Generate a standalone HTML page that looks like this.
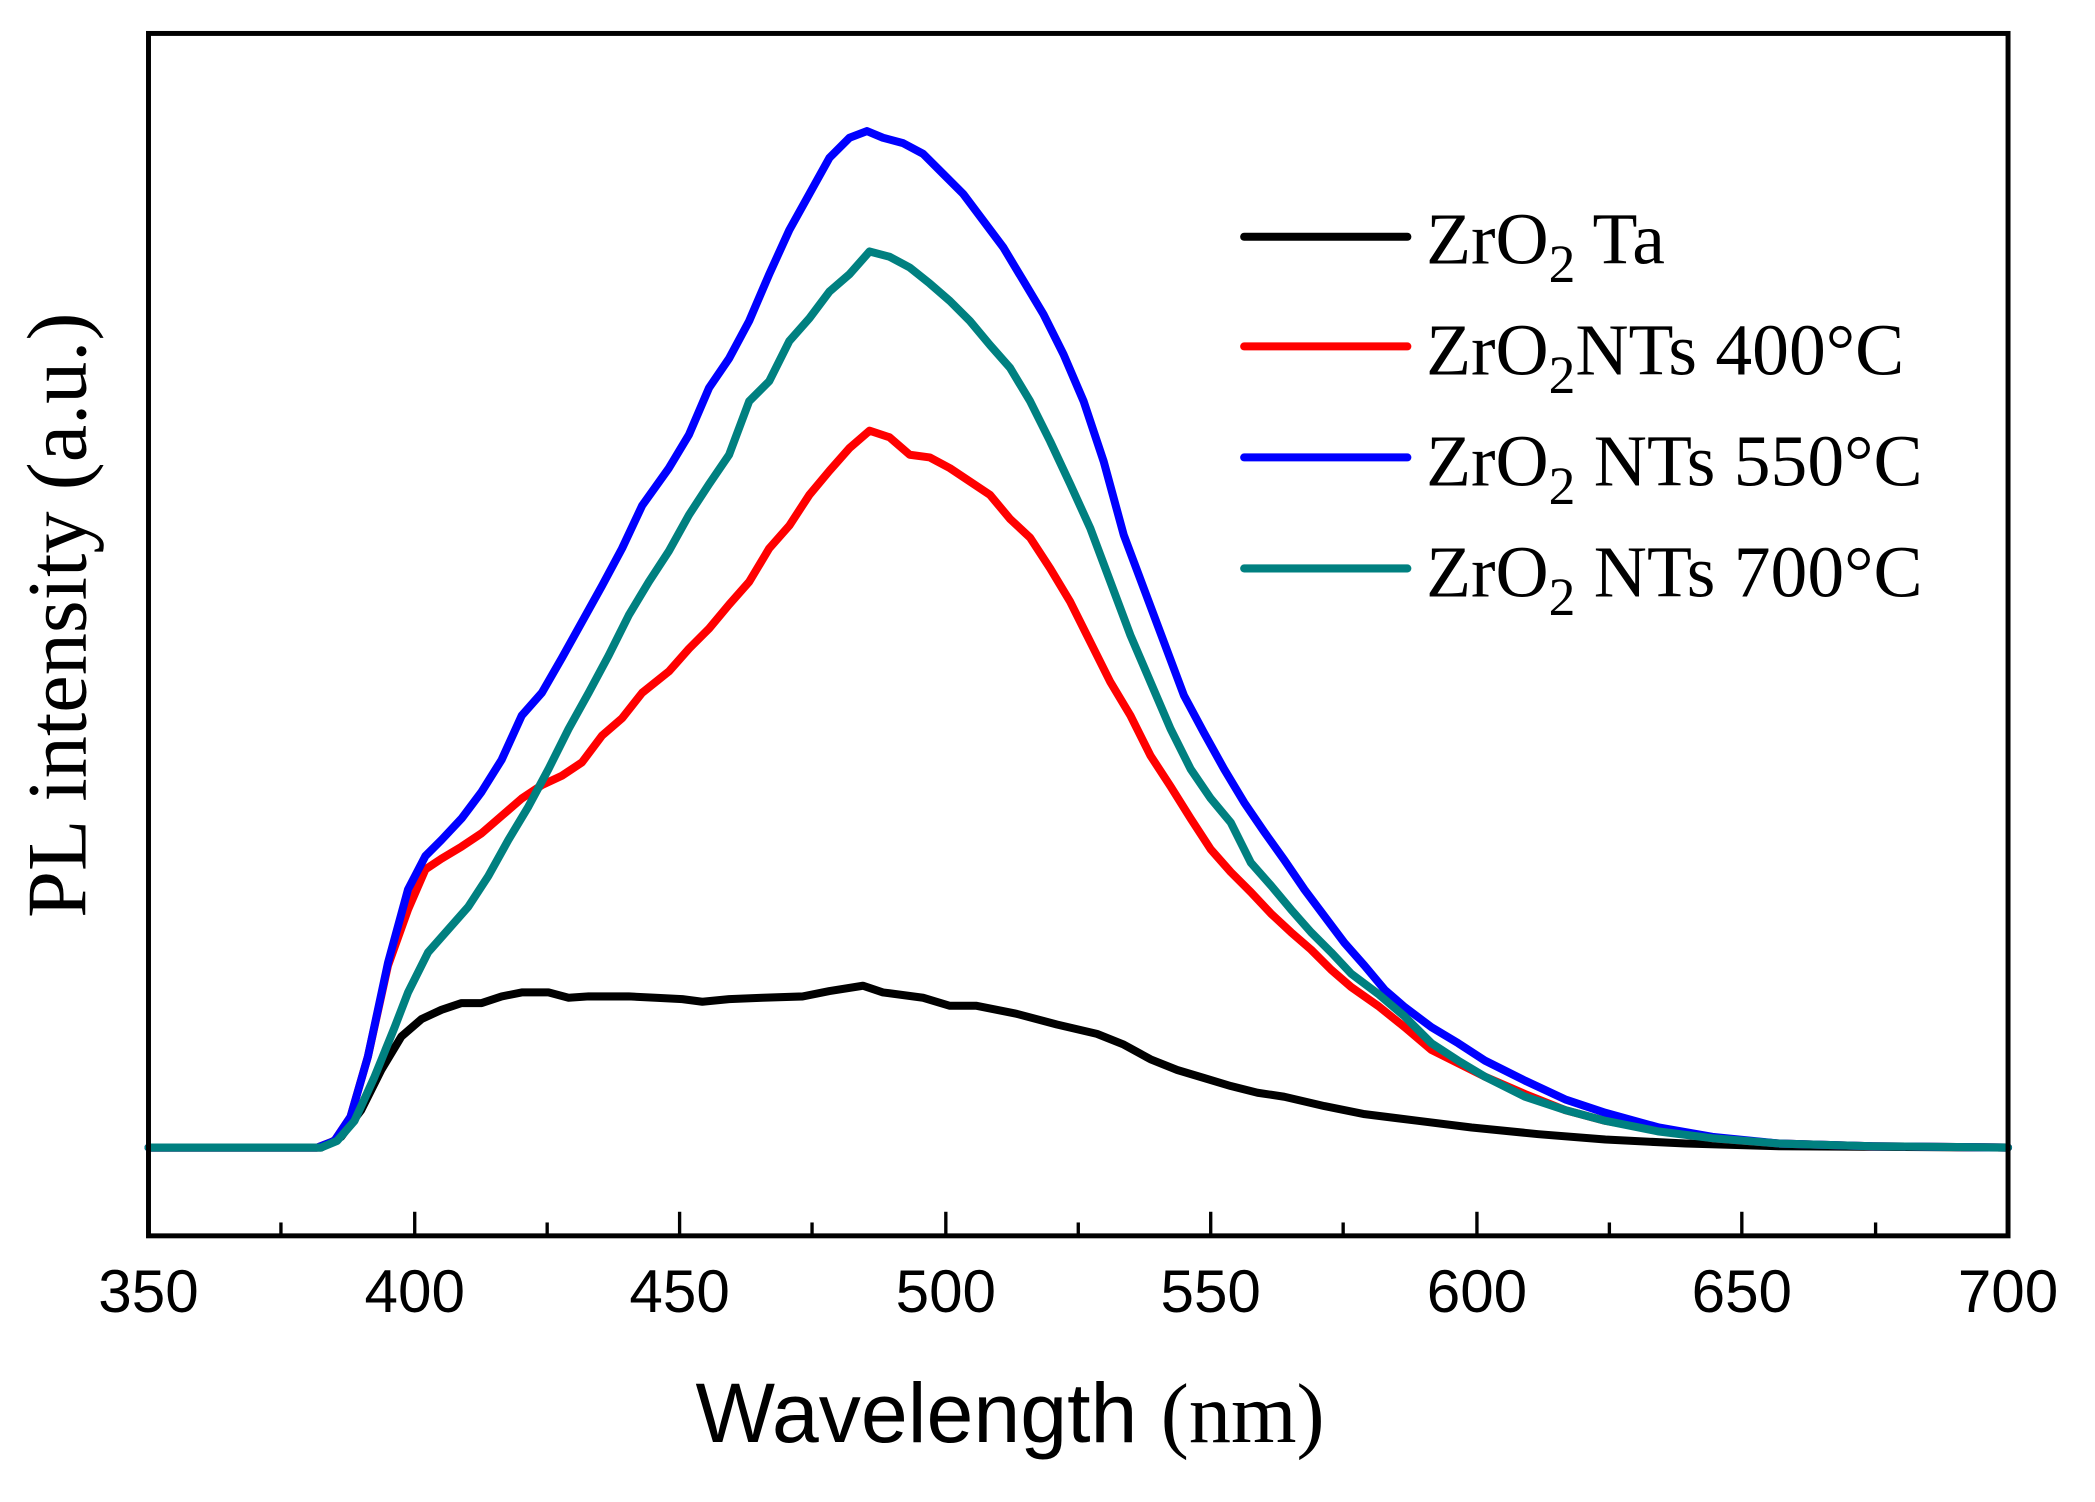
<!DOCTYPE html>
<html><head><meta charset="utf-8"><style>html,body{margin:0;padding:0;background:#fff;}svg{display:block;}</style></head>
<body>
<svg width="2095" height="1502" viewBox="0 0 1566 1123" preserveAspectRatio="none" xmlns="http://www.w3.org/2000/svg">
<rect width="1566" height="1123" fill="#fff"/>
<g fill="none" stroke-width="6" stroke-linejoin="round" stroke-linecap="round">
<polyline stroke="#000" points="111,858 240,858 255,850 270,830 285,800 300,775 315,762 330,755 345,750 360,750 375,745 390,742 410,742 425,746 440,745 470,745 490,746 510,747 525,749 545,747 570,746 600,745 620,741 645,737 660,742 690,746 710,752 730,752 760,758 790,766 820,773 840,781 860,792 880,800 900,806 920,812 940,817 960,820 990,827 1020,833 1060,838 1100,843 1150,848 1200,852 1260,855 1330,857 1501,858"/>
<polyline stroke="#ff0000" points="111,858 237,858 250,853 262,835 275,790 290,722 305,680 318,650 330,642 345,633 360,623 375,610 390,597 405,587 420,580 435,570 450,550 465,537 480,518 500,502 515,485 530,470 545,452 560,435 575,410 590,393 605,370 620,352 635,335 650,322 665,327 680,340 695,342 710,350 725,360 740,370 755,388 770,402 785,425 800,450 815,480 830,510 845,535 860,565 875,588 890,612 905,635 920,652 935,667 950,683 965,697 980,710 995,725 1010,738 1030,752 1050,768 1070,785 1090,795 1110,805 1140,818 1170,830 1200,838 1240,845 1280,851 1330,855 1400,857 1501,858"/>
<polyline stroke="#0000ff" points="111,858 237,858 250,853 262,835 275,790 290,720 305,665 318,640 330,628 345,612 360,592 375,568 390,535 405,518 420,492 435,465 450,438 465,410 480,378 500,350 515,325 530,290 545,268 560,240 575,205 590,172 605,145 620,118 635,103 648,98 660,103 675,107 690,115 705,130 720,145 735,165 750,185 765,210 780,235 795,265 810,300 825,345 840,400 855,440 870,480 885,520 900,548 915,575 930,600 945,622 960,643 975,665 990,685 1005,705 1020,722 1035,740 1050,753 1070,768 1090,780 1110,793 1140,808 1170,822 1200,832 1240,843 1280,850 1330,855 1400,857 1501,858"/>
<polyline stroke="#008080" points="111,858 240,858 252,853 265,838 280,805 295,768 305,742 320,712 335,695 350,678 365,655 380,628 395,603 410,575 425,545 440,518 455,490 470,460 485,435 500,412 515,385 530,362 545,340 560,300 575,285 590,255 605,238 620,218 635,205 650,188 665,192 680,200 695,212 710,225 725,240 740,258 755,275 770,300 785,330 800,362 815,395 830,435 845,475 860,510 875,545 890,575 905,597 920,615 935,645 950,662 965,680 980,697 995,712 1010,728 1030,743 1050,760 1070,780 1090,793 1110,805 1140,820 1170,830 1200,838 1240,846 1280,851 1330,855 1400,857 1501,858"/>
</g>
<rect x="111" y="25" width="1390" height="899" fill="none" stroke="#000" stroke-width="3.7"/>
<g stroke="#000" stroke-width="2.5">
<line x1="310" y1="924" x2="310" y2="906"/><line x1="508" y1="924" x2="508" y2="906"/><line x1="707" y1="924" x2="707" y2="906"/><line x1="905" y1="924" x2="905" y2="906"/><line x1="1104" y1="924" x2="1104" y2="906"/><line x1="1302" y1="924" x2="1302" y2="906"/>
<line x1="210" y1="924" x2="210" y2="914"/><line x1="409" y1="924" x2="409" y2="914"/><line x1="607" y1="924" x2="607" y2="914"/><line x1="806" y1="924" x2="806" y2="914"/><line x1="1004" y1="924" x2="1004" y2="914"/><line x1="1203" y1="924" x2="1203" y2="914"/><line x1="1402" y1="924" x2="1402" y2="914"/>
</g>
<g font-family="Liberation Sans, Arial, sans-serif" font-size="45" text-anchor="middle" fill="#000">
<text x="111" y="981">350</text><text x="310" y="981">400</text><text x="508" y="981">450</text><text x="707" y="981">500</text><text x="905" y="981">550</text><text x="1104" y="981">600</text><text x="1302" y="981">650</text><text x="1501" y="981">700</text>
</g>
<text x="755" y="1078" text-anchor="middle" fill="#000"><tspan font-family="Liberation Sans, Arial, sans-serif" font-size="63">Wavelength </tspan><tspan font-family="Liberation Serif, serif" font-size="63">(nm)</tspan></text>
<text transform="translate(64,460) rotate(-90)" text-anchor="middle" font-family="Liberation Serif, serif" font-size="63" fill="#000">PL intensity (a.u.)</text>
<g stroke-width="6" stroke-linecap="round">
<line x1="930" y1="177" x2="1052" y2="177" stroke="#000"/>
<line x1="930" y1="259" x2="1052" y2="259" stroke="#ff0000"/>
<line x1="930" y1="342" x2="1052" y2="342" stroke="#0000ff"/>
<line x1="930" y1="425" x2="1052" y2="425" stroke="#008080"/>
</g>
<g font-family="Liberation Serif, serif" font-size="55" fill="#000">
<text x="1066" y="197">ZrO<tspan font-size="40" dy="14">2</tspan><tspan dy="-14"> Ta</tspan></text>
<text x="1066" y="280">ZrO<tspan font-size="40" dy="14">2</tspan><tspan dy="-14">NTs 400°C</tspan></text>
<text x="1066" y="363">ZrO<tspan font-size="40" dy="14">2</tspan><tspan dy="-14"> NTs 550°C</tspan></text>
<text x="1066" y="446">ZrO<tspan font-size="40" dy="14">2</tspan><tspan dy="-14"> NTs 700°C</tspan></text>
</g>
</svg>
</body></html>
